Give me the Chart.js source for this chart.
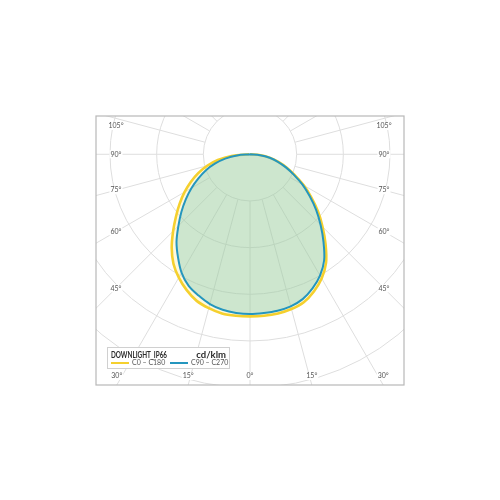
<!DOCTYPE html>
<html>
<head>
<meta charset="utf-8">
<script src="https://cdn.jsdelivr.net/npm/chart.js@4/dist/chart.umd.min.js"></script>
<style>
  body { margin: 0; background: #fff; }
  #wrap { width: 500px; height: 500px; }
</style>
</head>
<body>
<div id="wrap"><canvas id="ldc"></canvas></div>
<script>
// gamma angles (deg from nadir) and intensities in cd/klm
const gammaAngles = [0, 5, 10, 15, 20, 25, 30, 35, 40, 45, 50, 55, 60, 65, 70, 75, 80, 85, 90];
const c0Right    = [348, 347, 346, 343, 337, 324, 307, 284, 252, 220, 190, 160, 133, 106, 84, 63, 44, 23, 0];
const c180Left   = [347, 347, 346, 341, 334, 321, 305, 286, 261, 233, 207, 184, 162, 140, 118, 95, 70, 40, 2];
const c90Right   = [342, 341, 340, 337, 330, 317, 300, 277, 245, 214, 185, 156, 130, 104, 82, 62, 43, 22, 0];
const c270Left   = [342, 341, 338, 332, 322, 311, 293, 269, 245, 217, 192, 168, 145, 122, 101, 78, 54, 28, 0];

const ringValues = [100, 200, 300, 400, 500, 600, 700];
const spokeStep = 15;
const sideLabelAngles = [45, 60, 75, 90, 105];
const bottomLabelAngles = [0, 15, 30];

const lumName = 'DOWNLIGHT_IP66';
const unitText = 'cd/klm';
const seriesNames = ['C0 – C180', 'C90 – C270'];

// polar (gamma, I) -> x/y values, left half first then right half
function toXY(left, right) {
  const pts = [];
  for (let i = gammaAngles.length - 1; i >= 0; i--) {
    const g = gammaAngles[i] * Math.PI / 180;
    pts.push({ x: -left[i] * Math.sin(g), y: -left[i] * Math.cos(g) });
  }
  for (let i = 1; i < gammaAngles.length; i++) {
    const g = gammaAngles[i] * Math.PI / 180;
    pts.push({ x: right[i] * Math.sin(g), y: -right[i] * Math.cos(g) });
  }
  return pts;
}

const polarGrid = {
  id: 'polarGrid',
  beforeDatasetsDraw(chart) {
    const { ctx, chartArea: a, scales: { x, y } } = chart;
    const cx = x.getPixelForValue(0), cy = y.getPixelForValue(0);
    const ppu = x.getPixelForValue(100) - cx;
    ctx.save();
    ctx.beginPath();
    ctx.rect(a.left, a.top, a.width, a.height);
    ctx.clip();
    ctx.strokeStyle = '#dedede';
    ctx.lineWidth = 1;
    ringValues.forEach(v => {
      ctx.beginPath();
      ctx.arc(cx, cy, v * ppu / 100, 0, Math.PI * 2);
      ctx.stroke();
    });
    const r0 = ringValues[0] * ppu / 100, r1 = 900 * ppu / 100;
    for (let g = 0; g < 360; g += spokeStep) {
      const t = g * Math.PI / 180;
      ctx.beginPath();
      ctx.moveTo(cx + r0 * Math.sin(t), cy + r0 * Math.cos(t));
      ctx.lineTo(cx + r1 * Math.sin(t), cy + r1 * Math.cos(t));
      ctx.stroke();
    }
    ctx.restore();
  },
  afterDatasetsDraw(chart) {
    const { ctx, chartArea: a, scales: { x, y } } = chart;
    const cx = x.getPixelForValue(0), cy = y.getPixelForValue(0);
    ctx.save();
    ctx.font = '7px Lato';
    ctx.textBaseline = 'middle';
    ctx.textAlign = 'center';

    const label = (txt, lx, ly) => {
      const w = ctx.measureText(txt).width;
      ctx.fillStyle = '#fff';
      ctx.fillRect(lx - w / 2 - 1, ly - 4, w + 2, 8);
      ctx.fillStyle = '#555';
      ctx.fillText(txt, lx, ly);
    };

    // side labels
    const sideX = 20;
    sideLabelAngles.forEach(g => {
      const t = g * Math.PI / 180;
      const dx = cx - (a.left + sideX);
      let ly = cy + dx * Math.cos(t) / Math.sin(t);
      ly = Math.max(ly, a.top + 10);
      label(g + '°', a.left + sideX, ly);
      label(g + '°', a.right - sideX, ly);
    });
    // bottom labels
    bottomLabelAngles.forEach(g => {
      const off = (a.bottom - cy) * Math.tan(g * Math.PI / 180);
      const xs = g === 0 ? [cx] : [cx - off, cx + off];
      xs.forEach(lx => {
        lx = Math.min(Math.max(lx, a.left + 20), a.right - 20);
        label(g + '°', lx, a.bottom - 9);
      });
    });

    // legend box
    const bx = a.left + 11, by = a.bottom - 38, bw = 122, bh = 21;
    ctx.fillStyle = '#fff';
    ctx.fillRect(bx, by, bw, bh);
    ctx.strokeStyle = '#d0d0d0';
    ctx.lineWidth = 1;
    ctx.strokeRect(bx + 0.5, by + 0.5, bw, bh);
    ctx.textBaseline = 'alphabetic';
    ctx.textAlign = 'left';
    ctx.fillStyle = '#2b2b2b';
    ctx.font = '700 8.5px Lato';
    const nw = ctx.measureText(lumName).width;
    ctx.save();
    ctx.translate(bx + 4, by + 10.5);
    ctx.scale(Math.min(1, 56 / nw), 1);
    ctx.fillText(lumName, 0, 0);
    ctx.restore();
    ctx.textAlign = 'right';
    ctx.font = '700 9.5px Lato';
    ctx.fillText(unitText, bx + bw - 3, by + 11);
    ctx.textAlign = 'left';
    ctx.font = '7px Lato';
    ctx.textBaseline = 'middle';
    const rowY = by + 16;
    const sets = chart.data.datasets;
    [[bx + 4, 0], [bx + 63, 1]].forEach(([lx, i]) => {
      ctx.strokeStyle = sets[i].borderColor;
      ctx.lineWidth = 2;
      ctx.beginPath();
      ctx.moveTo(lx, rowY);
      ctx.lineTo(lx + 18, rowY);
      ctx.stroke();
      ctx.fillStyle = '#555';
      ctx.fillText(seriesNames[i], lx + 21, rowY);
    });

    // frame
    ctx.strokeStyle = '#b8b8b8';
    ctx.lineWidth = 1.2;
    ctx.strokeRect(a.left, a.top, a.width, a.height);
    ctx.restore();
  }
};

new Chart(document.getElementById('ldc'), {
  type: 'scatter',
  data: {
    datasets: [
      {
        label: seriesNames[0],
        data: toXY(c180Left, c0Right),
        showLine: true,
        borderColor: '#f5d02e',
        borderWidth: 2.6,
        backgroundColor: 'rgba(250, 225, 90, 0.2)',
        fill: 'shape',
        pointRadius: 0,
        tension: 0.35,
        order: 2
      },
      {
        label: seriesNames[1],
        data: toXY(c270Left, c90Right),
        showLine: true,
        borderColor: '#2596be',
        borderWidth: 2,
        backgroundColor: 'rgba(131, 199, 183, 0.4)',
        fill: 'shape',
        pointRadius: 0,
        tension: 0.35,
        order: 1
      }
    ]
  },
  options: {
    responsive: true,
    maintainAspectRatio: false,
    animation: false,
    events: [],
    layout: { padding: { left: 96, right: 96, top: 116, bottom: 115 } },
    scales: {
      x: { type: 'linear', min: -330, max: 330, display: false },
      y: { type: 'linear', min: -494, max: 82, display: false }
    },
    plugins: {
      legend: { display: false },
      tooltip: { enabled: false }
    }
  },
  plugins: [polarGrid]
});
</script>
</body>
</html>
